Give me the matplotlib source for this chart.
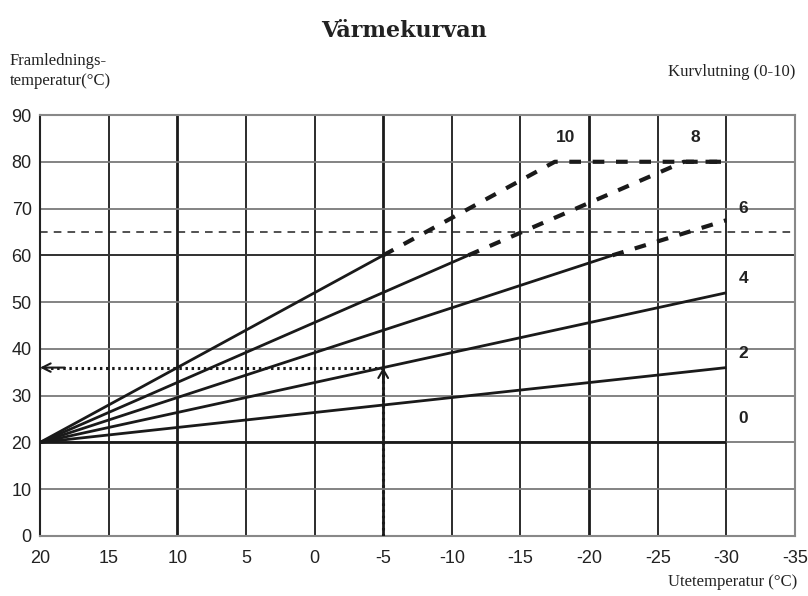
import matplotlib
matplotlib.use("Agg")
import matplotlib.pyplot as plt

# ---- data ----
curve_labels = ["0", "2", "4", "6", "8", "10"]
origin = (20, 20)
# solid part end points (x, y)
solid_end_x = [-30, -30, -30, -21.7, -11.2, -5]
solid_end_y = [20, 36, 52, 60, 60, 60]
# dashed continuation points (list of x, list of y) starting at solid end
dash_x = [[], [], [], [-21.7, -30], [-11.2, -26.9, -30], [-5, -17.5, -30]]
dash_y = [[], [], [], [60, 67.5], [60, 80, 80], [60, 80, 80]]
label_x = [-30.9, -30.9, -30.9, -30.9, -27.4, -17.6]
label_y = [23.5, 37.5, 53.5, 68.5, 83.5, 83.5]
limit_line_y = 65
example_x = -5
example_y = 36

xticks = [20, 15, 10, 5, 0, -5, -10, -15, -20, -25, -30, -35]
yticks = [0, 10, 20, 30, 40, 50, 60, 70, 80, 90]
bold_vlines = [10, -5, -20]

fig = plt.figure(figsize=(8.08, 5.96), dpi=100)
ax = fig.add_axes([40/808, 60/596, 755/808, 421/596])
ax.set_xlim(20, -35)
ax.set_ylim(0, 90)

# grid
for x in xticks[1:-1]:
    lw = 2.0 if x in bold_vlines else 1.3
    ax.axvline(x, color="#1a1a1a", lw=lw, zorder=1)
for y in yticks[1:-1]:
    ax.axhline(y, color="#7a7a7a", lw=1.3, zorder=1)
ax.axhline(60, color="#333333", lw=1.4, zorder=1)

for s in ["top", "right", "bottom"]:
    ax.spines[s].set_color("#888888")
    ax.spines[s].set_linewidth(1.5)
ax.spines["left"].set_color("#222222")
ax.spines["left"].set_linewidth(1.5)

ax.set_xticks(xticks)
ax.set_yticks(yticks)
ax.set_xticklabels([str(t) for t in xticks])
ax.tick_params(length=0, labelsize=13)
ax.tick_params(axis="x", pad=10)
ax.tick_params(axis="y", pad=6)
for lab in ax.get_xticklabels() + ax.get_yticklabels():
    lab.set_family("Liberation Sans")
    lab.set_color("#222222")

# limit dashed line
ax.axhline(limit_line_y, color="#222222", lw=1.1, ls=(0, (5, 4)), zorder=2)

# curves
for i, lab in enumerate(curve_labels):
    ax.plot([origin[0], solid_end_x[i]], [origin[1], solid_end_y[i]],
            color="#1a1a1a", lw=2.0, solid_capstyle="butt", zorder=3)
    if dash_x[i]:
        ax.plot(dash_x[i], dash_y[i], color="#1a1a1a", lw=3.0,
                ls=(0, (2.8, 2.8)), dash_capstyle="butt", zorder=3)
    ax.text(label_x[i], label_y[i], lab, fontsize=12.5, fontweight="bold",
            family="Liberation Sans", color="#222222", ha="left", va="bottom")

# example arrows (dotted)
ax.plot([example_x, example_x], [0, example_y], color="#1a1a1a", lw=2.2,
        ls=(0, (0.8, 1.2)), zorder=4)
ax.plot([example_x, 20], [example_y, example_y], color="#1a1a1a", lw=2.2,
        ls=(0, (0.8, 1.2)), zorder=4)
ax.annotate("", xy=(example_x, example_y), xytext=(example_x, example_y - 3),
            arrowprops=dict(arrowstyle="->,head_length=0.6,head_width=0.35",
                            color="#1a1a1a", lw=1.5, shrinkA=0, shrinkB=0), zorder=5)
ax.annotate("", xy=(20, example_y), xytext=(18.2, example_y),
            arrowprops=dict(arrowstyle="->,head_length=0.6,head_width=0.3",
                            color="#1a1a1a", lw=1.5, shrinkA=0, shrinkB=0), zorder=5)

# texts
fig.text(0.5, 1 - 31/596, "Värmekurvan", ha="center", va="center",
         fontsize=16, fontweight="bold", family="DejaVu Serif", color="#222222")
fig.text(10/808, 1 - 71/596, "Framlednings-\ntemperatur(°C)", ha="left", va="center",
         fontsize=12, family="Liberation Serif", color="#222222", linespacing=1.35)
fig.text(795/808, 1 - 72/596, "Kurvlutning (0-10)", ha="right", va="center",
         fontsize=12, family="Liberation Serif", color="#222222")
fig.text(797/808, 1 - 582/596, "Utetemperatur (°C)", ha="right", va="center",
         fontsize=12, family="Liberation Serif", color="#222222")

fig.savefig("out.png", dpi=100)
